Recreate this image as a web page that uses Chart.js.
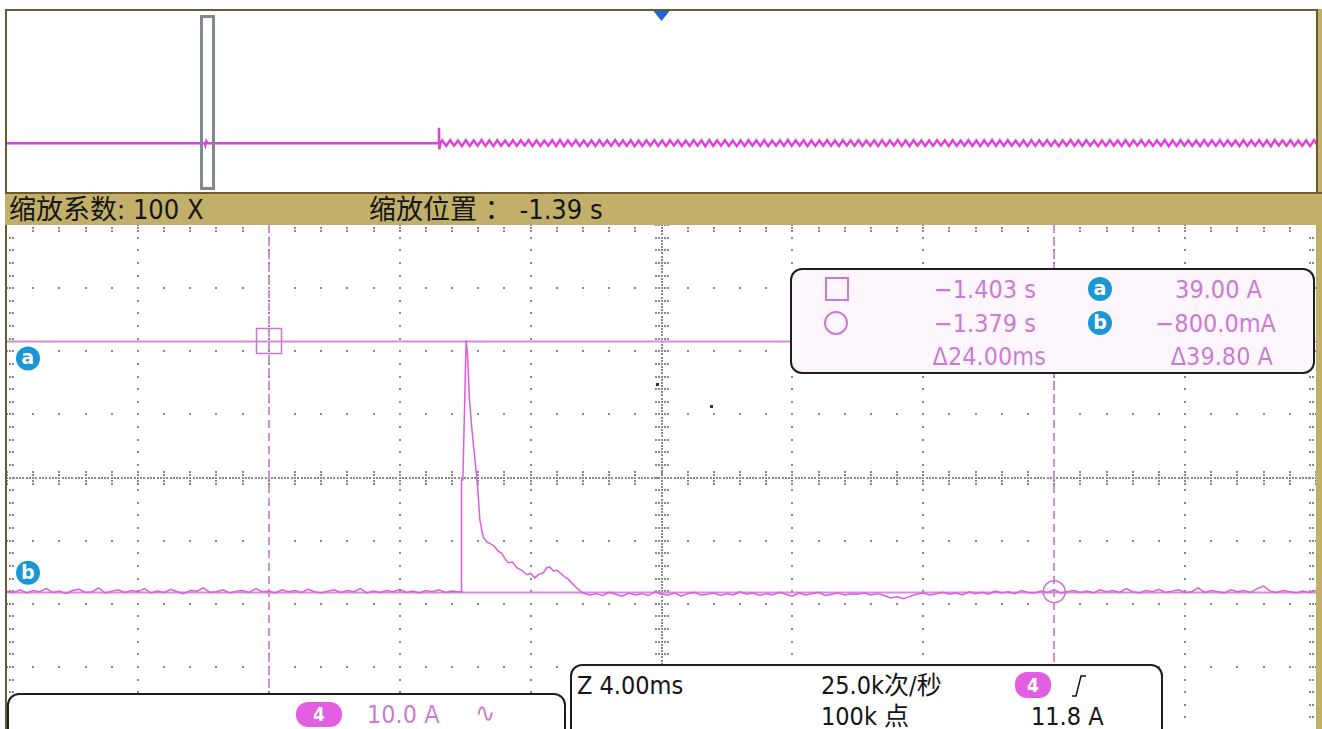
<!DOCTYPE html>
<html>
<head>
<meta charset="utf-8">
<script src="https://cdn.jsdelivr.net/npm/chart.js@4.4.1/dist/chart.umd.min.js"></script>
<style>
  html, body { margin: 0; padding: 0; width: 1322px; height: 729px; overflow: hidden; background: #fff; }
  body { position: relative; font-family: "DejaVu Sans Condensed", "DejaVu Sans", "Noto Sans CJK SC", sans-serif; font-stretch: condensed; }
  .abs { position: absolute; }
  .wrap { position: absolute; }
  .wrap canvas { display: block; }
  .gold { background: #c2b06a; }
  .txt { position: absolute; white-space: nowrap; line-height: 1; }
  .pink { color: #cc7ad4; }
  .dark { color: #151515; }
  .box { position: absolute; box-sizing: border-box; border: 2px solid #1e1e1e; border-radius: 12px; }
  .pill { position: absolute; background: #e35ee3; color: #fff; border-radius: 12px; text-align: center; font-weight: bold; }
  .badge { position: absolute; width: 24px; height: 24px; border-radius: 50%; background: #1a98d6; color: #fff;
           font: bold 19px/23px "DejaVu Sans", sans-serif; text-align: center; }
</style>
</head>
<body>

<!-- frame -->
<div class="abs" style="left:5px;top:9px;width:2px;height:720px;background:#6d5a2c;"></div>
<div class="abs gold" style="left:1316px;top:9px;width:6px;height:720px;"></div>

<!-- overview window -->
<div class="abs" style="left:5px;top:9px;width:1313px;height:185px;box-sizing:border-box;border:2px solid #6d5a2c;"></div>
<div class="wrap" style="left:7px;top:11px;width:1309px;height:182px;"><canvas id="overviewChart"></canvas></div>

<!-- zoom info bar -->
<div class="abs gold" style="left:5px;top:192px;width:1317px;height:33px;border-top:2px solid #6d5a2c;box-sizing:border-box;"></div>
<div class="txt dark" style="left:9px;top:196px;font-size:27px;">缩放系数: 100 X</div>
<div class="txt dark" style="left:369px;top:196px;font-size:27px;">缩放位置 ： -1.39 s</div>

<!-- zoomed window -->
<div class="wrap" style="left:7px;top:225px;width:1309px;height:505px;"><canvas id="zoomChart"></canvas></div>

<!-- cursor readout -->
<div class="box" style="left:790px;top:268px;width:525px;height:106px;background:#fdf6fd;"></div>
<div class="abs" style="left:825px;top:277px;width:20px;height:20px;border:2px solid #cc7ad4;"></div>
<div class="abs" style="left:824px;top:311px;width:20px;height:20px;border:2px solid #cc7ad4;border-radius:50%;"></div>
<div class="txt pink" style="right:286px;top:277px;font-size:25px;">−1.403 s</div>
<div class="badge" style="left:1088px;top:277px;">a</div>
<div class="txt pink" style="right:60px;top:277px;font-size:25px;">39.00 A</div>
<div class="txt pink" style="right:286px;top:311px;font-size:25px;">−1.379 s</div>
<div class="badge" style="left:1088px;top:311px;">b</div>
<div class="txt pink" style="right:46px;top:311px;font-size:25px;">−800.0mA</div>
<div class="txt pink" style="right:276px;top:344px;font-size:25px;">Δ24.00ms</div>
<div class="txt pink" style="right:49px;top:344px;font-size:25px;">Δ39.80 A</div>

<!-- channel box -->
<div class="box" style="left:7px;top:693px;width:559px;height:60px;background:#fff;"></div>
<div class="pill" style="left:296px;top:702px;width:46px;height:25px;font-size:19px;line-height:25px;">4</div>
<div class="txt pink" style="left:367px;top:702px;font-size:25px;">10.0 A</div>
<div class="txt pink" style="left:475px;top:699px;font-size:27px;">∿</div>

<!-- timebase / trigger box -->
<div class="box" style="left:570px;top:664px;width:593px;height:90px;background:#fff;"></div>
<div class="txt dark" style="left:577px;top:673px;font-size:25px;">Z 4.00ms</div>
<div class="txt dark" style="left:821px;top:673px;font-size:25px;">25.0k次/秒</div>
<div class="pill" style="left:1015px;top:672px;width:36px;height:26px;font-size:19px;line-height:26px;">4</div>
<svg class="abs" style="left:1066px;top:670px;" width="26" height="30">
  <path d="M6 26 L10 26 L15 6 L20 6" fill="none" stroke="#151515" stroke-width="1.5"/>
</svg>
<div class="txt dark" style="left:821px;top:704px;font-size:25px;">100k 点</div>
<div class="txt dark" style="left:1031px;top:704px;font-size:25px;">11.8 A</div>

<!-- stray screen pixels -->
<div class="abs" style="left:656px;top:383px;width:3px;height:3px;background:#333;"></div>
<div class="abs" style="left:710px;top:405px;width:3px;height:3px;background:#333;"></div>

<script>
// zoomed window: 4 ms/div, 10 A/div, channel 4 current
const zoomStartMs = -1411;
const zoomEndMs = -1371;
const ampMin = -22.7;
const ampMax = 57.3;
const sampleStepMs = 0.2;

// cursors
const cursorTimesMs = [-1403, -1379];
const cursorLevelsA = [39.0, -0.8];

// baseline before the inrush pulse, one value per sample from zoomStartMs
const preValues = [
  -0.7, -0.9, -0.5, -1.0, -0.6, -0.8, -0.3, -0.9, -0.7, -1.1,
  -0.6, -0.4, -0.9, -0.8, -0.2, -1.0, -0.7, -0.5, -0.9, -0.6,
  -0.8, -0.3, -1.0, -0.7, -0.9, -0.4, -0.8, -1.1, -0.6, -0.7,
  -0.2, -0.9, -0.8, -0.5, -1.0, -0.7, -0.6, -0.9, -0.3, -0.8,
  -0.7, -1.0, -0.5, -0.8, -0.6, -0.9, -0.4, -0.8, -1.0, -0.7,
  -0.5, -0.9, -0.6, -0.8, -0.3, -1.0, -0.7, -0.9, -0.6, -0.8,
  -0.4, -0.9, -0.7, -1.0, -0.6, -0.8, -0.5, -0.9, -0.7, -0.8
];

// the pulse itself
const pulseTimesMs = [
  -1397.12, -1397.11, -1397.07, -1396.97, -1396.93, -1396.87, -1396.80, -1396.70,
  -1396.62, -1396.55, -1396.45, -1396.34, -1396.22, -1396.09, -1395.98, -1395.88,
  -1395.78, -1395.68, -1395.55, -1395.42, -1395.27, -1395.12, -1395.00, -1394.87,
  -1394.74, -1394.61, -1394.51, -1394.41, -1394.30, -1394.20, -1394.07, -1393.95,
  -1393.85, -1393.74, -1393.59
];
const pulseValues = [
  -0.8, 16.9, 16.9, 39.0, 37.0, 29.9, 25.3, 20.1,
  15.9, 10.6, 7.9, 7.1, 6.8, 6.3, 5.6, 5.3,
  4.4, 3.8, 3.9, 3.0, 2.6, 1.9, 2.1, 1.4,
  2.0, 2.2, 3.0, 3.1, 2.5, 2.6, 2.1, 1.5,
  1.2, 0.6, -0.2
];

// baseline after the pulse, one value per sample from postStartMs
const postStartMs = -1393.4;
const postValues = [
  -1.0, -1.3, -1.1, -1.4, -0.9, -1.2, -1.5, -1.0, -1.3, -1.1,
  -1.4, -0.8, -1.2, -1.3, -1.0, -1.5, -1.1, -0.9, -1.3, -1.2,
  -1.0, -1.4, -1.1, -1.3, -0.8, -1.2, -1.0, -1.4, -1.1, -1.3,
  -0.9, -1.2, -1.5, -1.0, -1.3, -1.1, -0.9, -1.4, -1.2, -1.0,
  -1.3, -1.1, -1.2, -1.0, -1.3, -1.1, -1.4, -1.8, -1.6, -1.9,
  -1.5, -1.2, -1.0, -1.3, -1.1, -0.9, -1.2, -1.0, -1.3, -0.8,
  -1.1, -0.9, -1.2, -0.7, -1.0, -0.8, -1.1, -0.6, -0.9, -1.0,
  -0.7, -0.9, -0.5, -1.0, -0.8, -0.6, -0.9, -0.7, -1.0, -0.5,
  -0.8, -0.6, -0.9, -0.3, -0.8, -1.0, -0.6, -0.8, -0.4, -0.9,
  -0.7, -0.5, -0.9, -0.8, -0.2, -0.9, -0.6, -0.8, -1.0, -0.5,
  -0.8, -0.6, -0.9, -0.3, 0.1, -0.7, -0.9, -0.6, -0.8, -1.0,
  -0.7, -0.9, -0.6
];

// overview: 400 ms/div, trigger at 0 s
const overviewStartS = -2.0;
const overviewEndS = 2.0;
const zoomWindowS = [-1.411, -1.371];
const overviewLeadTimesS = [-2.0, -1.396, -1.394, -1.391, -1.388, -0.682, -0.680, -0.679, -0.676];
const overviewLeadValues = [-0.8, -0.8, -1.7, 0.0, -0.8, -0.8, 6.0, -3.5, -0.8];
const rippleStartS = -0.67;
const rippleStepS = 0.012;
const rippleValues = [
  0.4, -2.0, 0.5, -1.9, 0.3, -2.1, 0.5, -2.0, 0.4, -1.9, 0.6, -2.0, 0.4, -2.1, 0.5, -1.9,
  0.3, -2.0, 0.5, -2.0, 0.4, -1.8, 0.5, -2.1, 0.4, -2.0, 0.3, -1.9, 0.5, -2.0, 0.6, -2.1,
  0.4, -1.9, 0.5, -2.0, 0.3, -2.0, 0.4, -2.1, 0.5, -1.9, 0.4, -2.0, 0.6, -1.9, 0.4, -2.0,
  0.5, -2.1, 0.3, -2.0, 0.4, -1.9, 0.5, -2.0, 0.4, -2.1, 0.5, -1.8, 0.4, -2.0, 0.3, -2.0,
  0.5, -1.9, 0.4, -2.1, 0.6, -2.0, 0.4, -1.9, 0.5, -2.0, 0.3, -2.1, 0.4, -2.0, 0.5, -1.9,
  0.4, -2.0, 0.5, -2.1, 0.3, -1.9, 0.4, -2.0, 0.6, -2.0, 0.4, -1.9, 0.5, -2.1, 0.4, -2.0,
  0.3, -1.9, 0.5, -2.0, 0.4, -2.1, 0.5, -1.9, 0.4, -2.0, 0.5, -2.0, 0.3, -1.9, 0.4, -2.1,
  0.5, -2.0, 0.4, -1.9, 0.6, -2.0, 0.4, -2.1, 0.5, -1.9, 0.3, -2.0, 0.4, -2.0, 0.5, -1.8,
  0.4, -2.1, 0.5, -2.0, 0.3, -1.9, 0.5, -2.0, 0.4, -2.1, 0.4, -1.9, 0.6, -2.0, 0.4, -2.0,
  0.5, -1.9, 0.3, -2.0, 0.4, -2.1, 0.5, -2.0, 0.4, -1.9, 0.5, -2.0, 0.3, -2.1, 0.4, -1.9,
  0.6, -2.0, 0.4, -2.0, 0.5, -1.9, 0.3, -2.1, 0.4, -2.0, 0.5, -1.9, 0.4, -2.0, 0.5, -2.1,
  0.4, -1.9, 0.5, -2.0, 0.3, -2.0, 0.4, -1.9, 0.6, -2.1, 0.4, -2.0, 0.5, -1.9, 0.4, -2.0,
  0.3, -2.1, 0.5, -1.9, 0.4, -2.0, 0.5, -2.0, 0.4, -1.9, 0.3, -2.1, 0.5, -2.0, 0.4, -1.9,
  0.5, -2.0, 0.4, -2.1, 0.6, -1.9, 0.4, -2.0, 0.5, -2.0, 0.3, -1.9, 0.4, -2.1, 0.5, -2.0
];

const traceColor = '#df5cdf';
const cursorColor = '#d48cdb';

// build point lists
const zoomPoints = [];
preValues.forEach((v, i) => zoomPoints.push({ x: zoomStartMs + i * sampleStepMs, y: v }));
pulseTimesMs.forEach((t, i) => zoomPoints.push({ x: t, y: pulseValues[i] }));
postValues.forEach((v, i) => zoomPoints.push({ x: postStartMs + i * sampleStepMs, y: v }));

const overviewPoints = overviewLeadTimesS.map((t, i) => ({ x: t, y: overviewLeadValues[i] }));
rippleValues.forEach((v, i) => overviewPoints.push({ x: rippleStartS + i * rippleStepS, y: v }));

// dotted scope graticule, 10 x 8 divisions
const graticule = {
  id: 'graticule',
  beforeDatasetsDraw(chart) {
    const { ctx, chartArea: a } = chart;
    const dx = (a.right - a.left) / 10;
    const dy = (a.bottom - a.top) / 8;
    const dot = (x, y, s) => ctx.fillRect(Math.round(x - s / 2), Math.round(y - s / 2), s, s);
    ctx.save();
    ctx.fillStyle = '#8a8a8a';
    for (let i = 1; i < 10; i++) {
      if (i === 5) continue;
      for (let k = 0; k <= 40; k++) dot(a.left + i * dx, a.top + k * dy / 5, 2);
    }
    for (let j = 1; j < 8; j++) {
      if (j === 4) continue;
      for (let k = 0; k <= 50; k++) dot(a.left + k * dx / 5, a.top + j * dy, 2);
    }
    // centre axes with minor ticks
    const cx = a.left + 5 * dx, cy = a.top + 4 * dy;
    for (let k = 0; k <= 160; k++) dot(cx, a.top + k * dy / 20, 2);
    for (let k = 0; k <= 40; k++) {
      const y = a.top + k * dy / 5;
      for (const o of [-6, -3, 3, 6]) dot(cx + o, y, 2);
    }
    for (let k = 0; k <= 400; k++) dot(a.left + k * dx / 40, cy, 2);
    for (let k = 0; k <= 50; k++) {
      const x = a.left + k * dx / 5;
      for (const o of [-6, -3, 3, 6]) dot(x, cy + o, 2);
    }
    // edge ticks
    for (let k = 1; k < 50; k++) {
      const x = a.left + k * dx / 5;
      dot(x, a.top + 3, 2); dot(x, a.top + 6, 2);
    }
    for (let k = 1; k < 40; k++) {
      const y = a.top + k * dy / 5;
      dot(a.left + 3, y, 2); dot(a.left + 6, y, 2);
      dot(a.right - 3, y, 2); dot(a.right - 6, y, 2);
    }
    ctx.restore();
  }
};

// cursor lines and their markers
const cursors = {
  id: 'cursors',
  beforeDatasetsDraw(chart) {
    const { ctx, chartArea: a, scales: { x, y } } = chart;
    ctx.save();
    ctx.strokeStyle = cursorColor;
    ctx.lineWidth = 2;
    cursorLevelsA.forEach(level => {
      const py = Math.round(y.getPixelForValue(level)) + 0.5;
      ctx.beginPath(); ctx.moveTo(a.left, py); ctx.lineTo(a.right, py); ctx.stroke();
    });
    ctx.setLineDash([8, 5]);
    cursorTimesMs.forEach(t => {
      const px = Math.round(x.getPixelForValue(t));
      ctx.beginPath(); ctx.moveTo(px, a.top); ctx.lineTo(px, a.bottom); ctx.stroke();
    });
    ctx.restore();
  },
  afterDatasetsDraw(chart) {
    const { ctx, chartArea: a, scales: { x, y } } = chart;
    ctx.save();
    ctx.strokeStyle = '#c874d0';
    ctx.lineWidth = 1.5;
    const sx = x.getPixelForValue(cursorTimesMs[0]);
    const sy = y.getPixelForValue(cursorLevelsA[0]);
    ctx.strokeRect(Math.round(sx) - 12.5, Math.round(sy) - 12.5, 25, 25);
    const ox = x.getPixelForValue(cursorTimesMs[1]);
    const oy = y.getPixelForValue(cursorLevelsA[1]);
    ctx.beginPath(); ctx.arc(ox, oy, 11, 0, Math.PI * 2); ctx.stroke();
    // level tags on the left edge
    ctx.font = 'bold 19px "DejaVu Sans", sans-serif';
    ctx.textAlign = 'center';
    ctx.textBaseline = 'middle';
    [['a', sy + 18], ['b', oy - 19]].forEach(([label, ty]) => {
      ctx.fillStyle = '#1a98d6';
      ctx.beginPath(); ctx.arc(a.left + 21, ty, 12, 0, Math.PI * 2); ctx.fill();
      ctx.fillStyle = '#fff';
      ctx.fillText(label, a.left + 21, ty + 1);
    });
    ctx.restore();
  }
};

// overview decorations: zoom window box and trigger marker
const overviewMarks = {
  id: 'overviewMarks',
  afterDatasetsDraw(chart) {
    const { ctx, chartArea: a, scales: { x } } = chart;
    ctx.save();
    const x0 = x.getPixelForValue(zoomWindowS[0]);
    const x1 = x.getPixelForValue(zoomWindowS[1]);
    ctx.strokeStyle = '#7e8a8f';
    ctx.lineWidth = 3;
    ctx.strokeRect(Math.round(x0) + 1.5, a.top + 5.5, Math.round(x1 - x0) - 1, a.bottom - a.top - 10);
    const tx = x.getPixelForValue(0);
    ctx.fillStyle = '#1f62d4';
    ctx.beginPath();
    ctx.moveTo(tx - 8, a.top); ctx.lineTo(tx + 8, a.top); ctx.lineTo(tx, a.top + 10);
    ctx.closePath(); ctx.fill();
    ctx.restore();
  }
};

const baseOptions = (xmin, xmax) => ({
  responsive: true,
  maintainAspectRatio: false,
  animation: false,
  layout: { padding: 0 },
  plugins: { legend: { display: false }, tooltip: { enabled: false } },
  elements: { point: { radius: 0 }, line: { tension: 0 } },
  scales: {
    x: { type: 'linear', min: xmin, max: xmax, display: false },
    y: { min: ampMin, max: ampMax, display: false }
  }
});

new Chart(document.getElementById('zoomChart'), {
  type: 'line',
  data: { datasets: [{ data: zoomPoints, borderColor: traceColor, borderWidth: 1.5 }] },
  options: baseOptions(zoomStartMs, zoomEndMs),
  plugins: [graticule, cursors]
});

new Chart(document.getElementById('overviewChart'), {
  type: 'line',
  data: { datasets: [{ data: overviewPoints, borderColor: '#e040e0', borderWidth: 2.5 }] },
  options: baseOptions(overviewStartS, overviewEndS),
  plugins: [overviewMarks]
});
</script>
</body>
</html>
